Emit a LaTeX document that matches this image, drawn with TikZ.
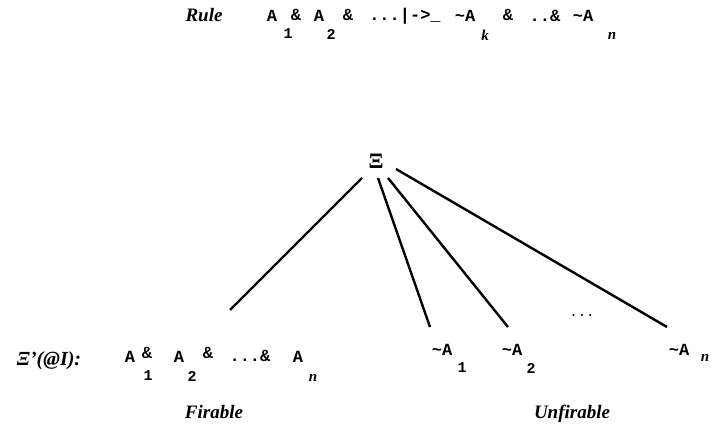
\documentclass[tikz,border=0pt]{standalone}
\usepackage{fontspec}
\setmainfont{Liberation Serif}
\setmonofont{Liberation Mono}
\begin{document}
\begin{tikzpicture}[x=1pt,y=-1pt,
  lbl/.style={font=\fontsize{19}{21}\selectfont\bfseries\itshape, inner sep=0pt, anchor=base},
  tt/.style={font=\fontsize{17}{19}\selectfont\ttfamily\bfseries, inner sep=0pt},
  sub/.style={font=\fontsize{15}{17}\selectfont\ttfamily\bfseries, inner sep=0pt},
  subi/.style={font=\fontsize{15}{17}\selectfont\bfseries\itshape, inner sep=0pt},
  edge/.style={line width=2.4pt}]
\useasboundingbox (0,0) rectangle (712,433);
% top rule
\node[lbl] (rule) at (204,22) {Rule};
\node[tt] (t1) at (272,16) {A};
\node[sub] (t1s) at (288,34) {1};
\node[tt] (t2) at (296,15) {\&};
\node[tt] (t3) at (319,16) {A};
\node[sub] (t3s) at (331,34) {2};
\node[tt] (t4) at (348,15) {\&};
\node[tt] (t5) at (405,16) {...|->\_};
\node[tt] (t6) at (465,16) {\char`\~A};
\node[subi] (t6s) at (485,35) {k};
\node[tt] (t7) at (508,15) {\&};
\node[tt] (t8) at (545,16) {..\&};
\node[tt] (t9) at (583,16) {\char`\~A};
\node[subi] (t9s) at (612,36) {n};
% root
\node[font=\fontsize{22}{24}\selectfont\bfseries, inner sep=0pt] (xi) at (376,161) {Ξ};
\coordinate (r1) at (362,178);
\coordinate (r2) at (378,178);
\coordinate (r3) at (388,178);
\coordinate (r4) at (396,169);
\coordinate (e1) at (230,310);
\coordinate (e2) at (430,327);
\coordinate (e3) at (508,327);
\coordinate (e4) at (667,327);
\draw[edge] (r1) -- (e1);
\draw[edge] (r2) -- (e2);
\draw[edge] (r3) -- (e3);
\draw[edge] (r4) -- (e4);
% bottom left
\node[lbl, font=\fontsize{20}{22}\selectfont\bfseries\itshape] (xip) at (49,365) {Ξ'(@I):};
\node[tt] (b1) at (130,357) {A};
\node[sub] (b1s) at (148,376) {1};
\node[tt] (b2) at (147,353) {\&};
\node[tt] (b3) at (179,357) {A};
\node[sub] (b3s) at (192,376) {2};
\node[tt] (b4) at (208,353) {\&};
\node[tt] (b5) at (250,356) {...\&};
\node[tt] (b6) at (298,357) {A};
\node[subi] (b6s) at (313,378) {n};
% bottom right
\node[tt] (u1) at (442,350) {\char`\~A};
\node[sub] (u1s) at (462,368) {1};
\node[tt] (u2) at (512,350) {\char`\~A};
\node[sub] (u2s) at (531,368) {2};
\node[font=\fontsize{14}{16}\selectfont\ttfamily, inner sep=0pt] (dots) at (582,315) {...};
\node[tt] (u3) at (679,350) {\char`\~A};
\node[subi] (u3s) at (705,358) {n};
% captions
\node[lbl] (fir) at (214,418) {Firable};
\node[lbl] (unf) at (572,418) {Unfirable};
\end{tikzpicture}
\end{document}
